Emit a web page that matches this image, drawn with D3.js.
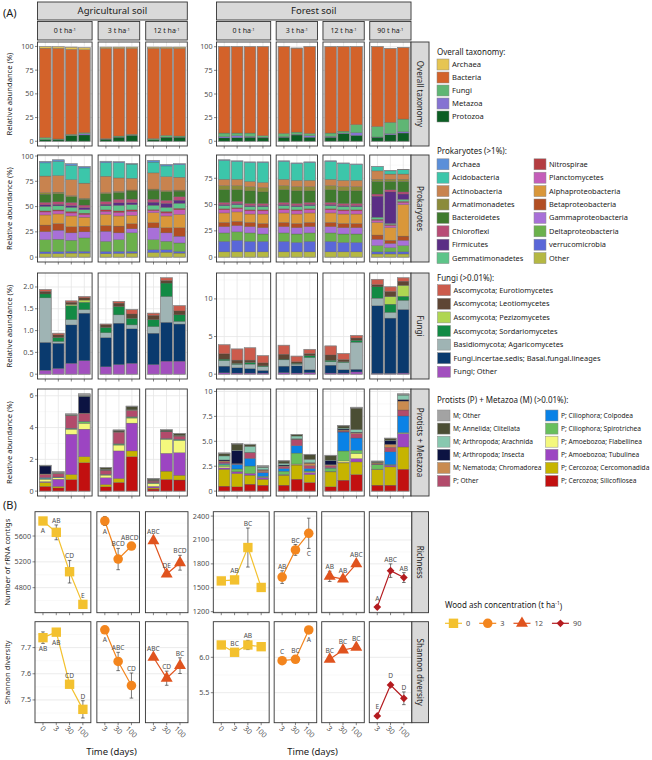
<!DOCTYPE html>
<html lang="en">
<head>
<meta charset="UTF-8">
<title>Wood ash and soil communities</title>
<script src="https://cdn.jsdelivr.net/npm/d3@7"></script>
<style>
  body { margin: 0; background: #fff; }
  text { font-family: "Noto Sans", sans-serif; }
</style>
</head>
<body>
<script>
// ---------------- data ----------------
const days0 = ["0", "3", "30", "100"];
const days = ["3", "30", "100"];
const agDoses = ["0", "3", "12"];
const forestDoses = ["0", "3", "12", "90"];

// Overall taxonomy (%), legend order
const overallTaxa = ["Archaea", "Bacteria", "Fungi", "Metazoa", "Protozoa"];
const overallColors = ["#e6c552", "#d3622a", "#5fb674", "#8573d2", "#0b5e23"];
const overallAg = [
  [1.6, 94.2, 2.1, 0.1, 1.7], [1.6, 95.6, 0.9, 0.1, 1.4], [2.4, 89.6, 1.3, 0.1, 5.9], [2.1, 87.5, 1.0, 1.4, 6.6],
  [1.3, 95.2, 0.6, 0.1, 2.1], [1.3, 92.5, 1.2, 0.1, 4.2], [1.3, 90.7, 1.0, 0.1, 6.2],
  [1.3, 95.2, 1.3, 0.1, 1.4], [1.3, 91.8, 1.9, 0.1, 4.2], [1.3, 92.5, 1.2, 0.1, 4.2]
];
const overallForest = [
  [0.1, 91.2, 3.9, 1.3, 3.5], [0.1, 91.2, 2.8, 2.1, 3.8], [0.1, 91.2, 3.5, 1.0, 4.2], [0.1, 94.0, 1.7, 0.7, 3.5],
  [0.1, 91.6, 3.5, 0.6, 4.2], [0.1, 88.8, 2.4, 0.7, 6.6], [0.1, 91.6, 2.4, 1.7, 4.2],
  [0.1, 91.2, 3.5, 1.0, 4.2], [0.1, 89.2, 2.0, 0.7, 8.0], [0.1, 82.3, 8.6, 2.8, 6.2],
  [0.1, 84.3, 11.1, 0.3, 4.2], [0.1, 78.2, 12.0, 1.1, 6.9], [0.1, 75.7, 13.5, 1.3, 8.7]
];

// Prokaryotes (>1%)
const prokTaxa = ["Archaea", "Acidobacteria", "Actinobacteria", "Armatimonadetes", "Bacteroidetes", "Chloroflexi",
  "Firmicutes", "Gemmatimonadetes", "Nitrospirae", "Planctomycetes", "Alphaproteobacteria", "Betaproteobacteria",
  "Gammaproteobacteria", "Deltaproteobacteria", "verrucomicrobia", "Other"];
const prokColors = ["#5b8fd9", "#3cc6aa", "#c8834f", "#8b8b3a", "#3f7a2e", "#b84c76", "#5b2e85", "#5ec489",
  "#b43c40", "#c45db9", "#d9973a", "#b24e22", "#a870d8", "#6bb14b", "#5a67d8", "#b5b843"];
const prokAg = [
  [1.5, 13, 16.5, 1.5, 8, 2.5, 1.5, 4.5, 1, 3, 10, 6.5, 8, 12, 1.7, 3.5],
  [1.5, 14, 16.5, 1.5, 8, 2.5, 1.5, 4, 1, 3, 9.5, 6.5, 9, 12.2, 2, 3.5],
  [1.6, 14, 16, 1, 5.7, 3, 1.8, 4, 1.5, 3, 10.7, 6, 7.3, 11, 1.7, 4],
  [1.3, 15, 15, 1, 5.7, 2.5, 2, 3.5, 1.5, 2.5, 9, 5.5, 6, 13.3, 1.7, 4],
  [1.5, 13.3, 16.3, 1, 7.7, 2.7, 1.5, 4, 1.5, 3, 11, 5.7, 10, 10, 2.3, 3.3],
  [1, 15, 13.3, 1, 6.7, 3.6, 2.5, 5.5, 1.5, 3.5, 10, 6.7, 6.7, 11.6, 2, 3.7],
  [0.4, 14, 11.6, 1, 8, 3.5, 2, 5, 1.5, 4, 8.4, 5, 4, 18.3, 1.7, 4],
  [1.7, 10.7, 16, 1, 9, 3, 3, 4.3, 1, 2, 10, 5, 11.7, 10, 2.7, 4.6],
  [1.4, 10.6, 14, 1, 8.4, 3, 4, 4, 1.5, 3, 11.7, 5, 8.3, 8.4, 2.5, 4.8],
  [1, 12.3, 12.7, 1, 5.6, 3.4, 3, 5, 1.5, 4.5, 13.3, 8.3, 6.7, 8.3, 1.7, 4]
];
const prokForest = [
  [0.5, 18, 6, 4, 12, 2, 1, 3, 1, 3, 9, 4, 6, 8, 10, 5],
  [0.5, 17, 6, 4, 11, 2, 1, 3, 1, 3, 9, 4, 6, 8, 11, 5],
  [0.5, 18, 5, 4, 12, 2, 1, 3, 1, 3, 8, 4, 6, 8, 10, 5],
  [0.5, 19, 5, 4, 11, 2, 1, 3, 1, 3, 9, 4, 6, 7, 10, 5],
  [0.5, 17, 6, 4, 12, 2, 1, 3, 1, 3, 9, 4, 6, 8, 10, 5],
  [0.5, 16, 6, 4, 12, 2, 1, 3, 1, 3, 9, 4, 6, 8, 9, 5],
  [0.5, 17, 6, 4, 11, 2, 1, 3, 1, 3, 9, 4, 6, 8, 10, 5],
  [0.5, 17, 6, 4, 12, 2, 1, 3, 1, 3, 9, 4, 6, 8, 10, 5],
  [0.5, 16, 6, 4, 12, 2, 1, 3, 1, 3, 9, 4, 6, 8, 9, 5],
  [0.5, 15, 6, 4, 12, 2, 1, 3, 1, 3, 9, 4, 6, 8, 9, 5],
  [0.3, 4, 8, 2, 12, 2, 20, 2, 1, 2, 12, 4, 6, 6, 2, 3],
  [0.3, 3, 5, 2, 8, 2, 30, 1, 1, 2, 12, 3, 4, 4, 2, 3],
  [0.3, 4, 5, 2, 10, 2, 5, 2, 1, 2, 30, 4, 5, 6, 2, 3]
];

// Fungi (>0.01%)
const fungiTaxa = ["Ascomycota; Eurotiomycetes", "Ascomycota; Leotiomycetes", "Ascomycota; Pezizomycetes",
  "Ascomycota; Sordariomycetes", "Basidiomycota; Agaricomycetes", "Fungi.incertae.sedis; Basal.fungal.lineages", "Fungi; Other"];
const fungiColors = ["#cc5b4c", "#5e4634", "#afd652", "#128a44", "#9fb4b4", "#0a3a6e", "#a24fbe"];
const fungiAg = [
  [0.04, 0.06, 0, 0.09, 1.02, 0.64, 0.09], [0.04, 0.06, 0, 0.09, 0.04, 0.58, 0.13],
  [0.03, 0.05, 0.03, 0.32, 0.12, 0.88, 0.25], [0.03, 0.05, 0.05, 0.17, 0.08, 1.09, 0.31],
  [0.02, 0.06, 0, 0.12, 0.11, 0.67, 0.17], [0.04, 0.08, 0, 0.19, 0.19, 0.95, 0.22], [0.1, 0.1, 0, 0.15, 0.09, 0.79, 0.25],
  [0.05, 0.1, 0, 0.16, 0.15, 0.72, 0.22], [0.06, 0.06, 0, 0.31, 0.59, 0.89, 0.3], [0.12, 0.09, 0, 0.15, 0.06, 0.85, 0.3]
];
const fungiForest = [
  [1.2, 0.7, 0, 0.2, 0.73, 0.89, 0.18], [1.48, 0.44, 0, 0.13, 0.45, 0.7, 0.15],
  [1.63, 0.31, 0, 0.22, 0.59, 0.6, 0.15], [0.95, 0.4, 0, 0.1, 0.5, 0.35, 0.15],
  [1.2, 0.65, 0, 0.1, 0.83, 0.87, 0.2], [0.75, 0.2, 0, 0.11, 0.24, 0.95, 0.15], [0.55, 0.3, 0, 0.25, 1.6, 0.4, 0.2],
  [1.2, 0.7, 0, 0.2, 0.45, 1.05, 0.15], [0.8, 0.3, 0, 0.1, 0.95, 0.45, 0.15], [0.35, 0.3, 0, 0.25, 3.6, 0.35, 0.3],
  [0.7, 0.3, 0, 1.5, 1.0, 9.0, 0.1], [0.6, 0.7, 1.0, 1.1, 0.75, 7.35, 0.1], [0.45, 0.55, 1.45, 0.55, 1.2, 8.45, 0.15]
];

// Protists (P) + Metazoa (M) (>0.01%)
const protTaxa = ["M; Other", "M; Annelida; Clitellata", "M; Arthropoda; Arachnida", "M; Arthropoda; Insecta",
  "M; Nematoda; Chromadorea", "P; Other", "P; Ciliophora; Colpodea", "P; Ciliophora; Spirotrichea",
  "P; Amoebozoa; Flabellinea", "P; Amoebozoa; Tubulinea", "P; Cercozoa; Cercomonadida", "P; Cercozoa; Silicofilosea"];
const protColors = ["#a3a3a3", "#4b4e34", "#88c8af", "#0c1342", "#c98b50", "#b24b6b", "#0a82e6", "#68bf5d",
  "#f4f87d", "#9c45c2", "#c6b400", "#c21010"];
const protAg = [
  [0.02, 0, 0.03, 0.5, 0.03, 0.2, 0.05, 0.05, 0.15, 0.05, 0.25, 0.3],
  [0.06, 0.02, 0.02, 0, 0.03, 0.2, 0.02, 0.02, 0.1, 0.45, 0.1, 0.2],
  [0.06, 0.02, 0.02, 0, 0.02, 0.78, 0.02, 0.04, 0.32, 2.53, 0.32, 0.73],
  [0.12, 0.02, 0.02, 1.05, 0.02, 0.5, 0.02, 0.1, 0.37, 1.73, 0.38, 1.79],
  [0.02, 0.1, 0.02, 0.03, 0.02, 0.25, 0.02, 0.02, 0.17, 0.42, 0.15, 0.27],
  [0.02, 0.08, 0.02, 0, 0.02, 0.73, 0.02, 0.06, 0.37, 1.73, 0.25, 0.55],
  [0.05, 0.18, 0.02, 0, 0.02, 0.4, 0.02, 0.06, 0.32, 1.75, 0.36, 2.17],
  [0.02, 0.05, 0.03, 0.02, 0.05, 0.1, 0.02, 0.03, 0.18, 0.1, 0.07, 0.13],
  [0.02, 0.07, 0.02, 0, 0.02, 0.42, 0.02, 0.03, 0.88, 1.12, 0.52, 0.74],
  [0.02, 0.1, 0.02, 0, 0.02, 0.2, 0.02, 0.06, 0.76, 1.42, 0.3, 0.7]
];
const protForest = [
  [0.06, 0.24, 0.4, 0.1, 0.1, 0.16, 0.1, 0.17, 0.17, 0.13, 1.7, 0.5],
  [0.07, 0.6, 0.05, 1.3, 0.02, 0.05, 0.47, 0.27, 0.02, 0.16, 1.34, 0.43],
  [0.05, 0.17, 0.6, 0.02, 0.02, 0.56, 0.77, 0.73, 0.02, 0.17, 0.9, 0.7],
  [0.1, 0.05, 0.23, 0.05, 0.15, 0.1, 0.37, 0.1, 0.02, 0.17, 0.6, 0.6],
  [0.02, 0.23, 0.17, 0.1, 0.05, 0.2, 0.27, 0.33, 0.02, 0.05, 1.0, 0.6],
  [0.02, 0.13, 0.27, 0.05, 0.05, 0.6, 0.74, 1.1, 0.05, 0.05, 1.42, 1.2],
  [0.06, 0.44, 0.33, 0.05, 0.24, 0.3, 0.25, 0.1, 0.05, 0.2, 0.8, 0.87],
  [0.07, 0.43, 0.05, 0.4, 0.1, 0.2, 0.05, 0.33, 0.02, 0.02, 1.5, 0.43],
  [0.07, 0.2, 0.1, 0.1, 0.1, 0.1, 1.9, 1.0, 0.15, 0.05, 1.73, 1.1],
  [0.1, 2.14, 0.26, 0.05, 0.1, 0.44, 1.23, 0.33, 0.5, 0.34, 1.26, 1.67],
  [0.03, 0.1, 0.05, 0.02, 0.1, 0.05, 0.03, 0.43, 0.02, 0.02, 1.57, 0.6],
  [0.02, 0.2, 0.05, 0.35, 0.3, 0.46, 1.27, 0.05, 0.02, 0.17, 1.83, 0.6],
  [0.1, 0.02, 0.45, 0.15, 0.9, 0.6, 1.67, 0.05, 0.05, 1.34, 2.23, 2.2]
];

// axis ticks for part A
const ticksOverall = [0, 25, 50, 75, 100];
const ticksProkAg = [0, 25, 50, 75, 100];
const ticksProkForest = [0, 25, 50, 75, 100];
const ticksFungiAg = [0, 0.5, 1, 1.5, 2];
const labelsFungiAg = ["0", "0.5", "1.0", "1.5", "2.0"];
const ticksFungiForest = [0, 5, 10];
const ticksProtAg = [0, 2, 4, 6];
const ticksProtForest = [0, 2.5, 5, 7.5, 10];
const labelsProtForest = ["0", "2.5", "5.0", "7.5", "10"];

// Part B: richness (number of rRNA contigs) and Shannon diversity, mean and error
const richAgMean = [5833, 5657, 5047, 4541, 5833, 5243, 5445, 5527, 5011, 5186];
const richAgErr = [20, 115, 175, 10, 70, 165, 15, 15, 15, 115];
const richAgLetters = ["A", "AB", "CD", "E", "A", "BCD", "ABCD", "ABC", "DE", "BCD"];
const richAgSide = ["b", "a", "a", "a", "b", "a", "a", "a", "a", "a"];
const richForestMean = [1586, 1599, 2005, 1504, 1634, 1975, 2184, 1643, 1608, 1800, 1257, 1715, 1628];
const richForestErr = [10, 15, 245, 10, 80, 68, 190, 64, 10, 10, 15, 85, 62];
const richForestLetters = ["", "AB", "BC", "", "AB", "BC", "C", "AB", "AB", "ABC", "A", "ABC", "AB"];
const richForestSide = ["a", "a", "a", "a", "a", "a", "b", "a", "a", "a", "a", "a", "a"];
const shanAgMean = [7.738, 7.759, 7.560, 7.464, 7.768, 7.647, 7.555, 7.663, 7.583, 7.631];
const shanAgErr = [0.022, 0.005, 0.005, 0.033, 0.005, 0.035, 0.048, 0.005, 0.027, 0.03];
const shanAgLetters = ["AB", "AB", "CD", "D", "A", "ABC", "CD", "ABC", "CD", "BC"];
const shanAgSide = ["b", "b", "a", "a", "b", "a", "a", "a", "a", "a"];
const shanForestMean = [6.174, 6.071, 6.174, 6.15, 5.952, 5.972, 6.386, 5.972, 6.103, 6.141, 5.171, 5.609, 5.421];
const shanForestErr = [0.005, 0.005, 0.065, 0.005, 0.005, 0.005, 0.005, 0.005, 0.005, 0.005, 0.005, 0.005, 0.09];
const shanForestLetters = ["", "BC", "AB", "", "C", "BC", "A", "BC", "BC", "BC", "E", "D", "D"];
const shanForestSide = ["a", "a", "a", "a", "a", "a", "b", "a", "a", "a", "a", "a", "a"];

const richAgLim = [4412, 5977], richForestLim = [1187, 2455];
const shanAgLim = [7.413, 7.799], shanForestLim = [5.076, 6.503];
const ticksRichAg = [4800, 5200, 5600];
const ticksRichForest = [1200, 1500, 1800, 2100, 2400];
const ticksShanAg = [7.5, 7.6, 7.7];
const ticksShanForest = [5.5, 6.0];
const labelsShanForest = ["5.5", "6.0"];

const doseNames = ["0", "3", "12", "90"];
const doseColors = ["#f3c12f", "#f3851d", "#e0531e", "#b41b1f"];

// ---------------- layout ----------------
const svg = d3.select("body").append("svg").attr("width", 652).attr("height", 760);

function colRanges(x0, unit, gap, doses) {
  let x = x0;
  return doses.map(d => {
    const cats = d === "0" ? days0 : days;
    const w = unit * (cats.length - 1 + 1.2);
    const r = {dose: d, cats: cats, x0: x, x1: x + w};
    x += w + gap;
    return r;
  });
}
const colsA = {ag: colRanges(37.5, 13, 6, agDoses), forest: colRanges(216.5, 12.9, 5.5, forestDoses)};
const colsB = {ag: colRanges(35, 13.3, 6, agDoses), forest: colRanges(213.3, 13.3, 5, forestDoses)};
const rowsA = [[42, 146], [155, 262], [273, 379], [389, 496]];
const rowsB = [[511.7, 612.7], [621.7, 722.7]];

function xScaleFor(col) {
  return d3.scalePoint().domain(col.cats).range([col.x0, col.x1]).padding(0.6);
}

function grid(g, y, ticks, x0, x1, domain) {
  const step = ticks[1] - ticks[0];
  const minors = [];
  for (let v = ticks[0] - step / 2; v <= ticks[ticks.length - 1] + step / 2 + 1e-9; v += step) minors.push(v);
  g.selectAll(null).data(minors.filter(v => v > domain[0] && v < domain[1])).join("line")
    .attr("x1", x0).attr("x2", x1).attr("y1", d => y(d)).attr("y2", d => y(d))
    .attr("stroke", "#f3f3f3").attr("stroke-width", 0.5);
  g.selectAll(null).data(ticks.filter(v => v >= domain[0] && v <= domain[1])).join("line")
    .attr("x1", x0).attr("x2", x1).attr("y1", d => y(d)).attr("y2", d => y(d))
    .attr("stroke", "#e6e6e6").attr("stroke-width", 0.8);
}

function yAxis(g, y, ticks, labels, x0, domain) {
  const shown = ticks.filter(v => v >= domain[0] && v <= domain[1]);
  g.selectAll(null).data(shown).join("line")
    .attr("x1", x0 - 2.5).attr("x2", x0).attr("y1", d => y(d)).attr("y2", d => y(d))
    .attr("stroke", "#333").attr("stroke-width", 0.6);
  g.selectAll(null).data(shown).join("text")
    .attr("x", x0 - 4).attr("y", d => y(d)).attr("dy", "0.35em")
    .attr("text-anchor", "end").attr("font-size", 7.2).attr("fill", "#4d4d4d")
    .text(d => labels ? labels[ticks.indexOf(d)] : d3.format("~g")(d));
}

function frame(g, x0, x1, y0, y1) {
  g.append("rect").attr("x", x0).attr("y", y0).attr("width", x1 - x0).attr("height", y1 - y0)
    .attr("fill", "none").attr("stroke", "#333").attr("stroke-width", 0.9);
}

function strip(x0, x1, y0, y1, label, rotate, size) {
  svg.append("rect").attr("x", x0).attr("y", y0).attr("width", x1 - x0).attr("height", y1 - y0)
    .attr("fill", "#d9d9d9").attr("stroke", "#333").attr("stroke-width", 0.9);
  const cx = (x0 + x1) / 2, cy = (y0 + y1) / 2;
  const t = svg.append("text").attr("text-anchor", "middle").attr("dy", "0.35em")
    .attr("font-size", size).attr("fill", "#1a1a1a")
    .attr("transform", rotate ? `translate(${cx},${cy}) rotate(90)` : `translate(${cx},${cy})`);
  return t.text(label);
}

function haLabel(sel, prefix) {
  sel.append("tspan").text(prefix);
  sel.append("tspan").attr("font-size", "0.6em").attr("dy", "-0.6em").text("-1");
}

// ---------------- part A: stacked bars ----------------
function stackRow(soil, r, taxa, colors, bars, ticks, labels) {
  const [top, bot] = rowsA[r];
  const cols = colsA[soil];
  const maxV = d3.max(bars, b => d3.sum(b));
  const domain = [-0.05 * maxV, 1.05 * maxV];
  const y = d3.scaleLinear().domain(domain).range([bot, top]);
  const color = d3.scaleOrdinal().domain(taxa).range(colors);
  const keys = taxa.slice().reverse();
  let k = 0;
  cols.forEach((col, ci) => {
    const x = xScaleFor(col);
    const rows = col.cats.map(day => {
      const o = {day: day};
      taxa.forEach((t, j) => { o[t] = bars[k][j]; });
      k++;
      return o;
    });
    const series = d3.stack().keys(keys)(rows);
    const g = svg.append("g");
    g.append("rect").attr("x", col.x0).attr("y", top).attr("width", col.x1 - col.x0).attr("height", bot - top).attr("fill", "#fff");
    grid(g, y, ticks, col.x0, col.x1, domain);
    g.selectAll(null).data(col.cats).join("line")
      .attr("x1", d => x(d)).attr("x2", d => x(d)).attr("y1", top).attr("y2", bot)
      .attr("stroke", "#e6e6e6").attr("stroke-width", 0.8);
    const bw = x.step() * 0.9;
    series.forEach(s => {
      g.selectAll(null).data(s.filter(d => d[1] > d[0])).join("rect")
        .attr("x", d => x(d.data.day) - bw / 2).attr("width", bw)
        .attr("y", d => y(d[1])).attr("height", d => y(d[0]) - y(d[1]))
        .attr("fill", color(s.key)).attr("stroke", "#555").attr("stroke-width", 0.3);
    });
    g.selectAll(null).data(rows).join("rect")
      .attr("x", d => x(d.day) - bw / 2).attr("width", bw)
      .attr("y", d => y(d3.sum(taxa, t => d[t]))).attr("height", d => y(0) - y(d3.sum(taxa, t => d[t])))
      .attr("fill", "none").attr("stroke", "#8c8c8c").attr("stroke-width", 0.7);
    frame(g, col.x0, col.x1, top, bot);
    g.selectAll(null).data(col.cats).join("line")
      .attr("x1", d => x(d)).attr("x2", d => x(d)).attr("y1", bot).attr("y2", bot + 2.5)
      .attr("stroke", "#333").attr("stroke-width", 0.6);
    if (ci === 0) yAxis(g, y, ticks, labels, col.x0, domain);
  });
}

stackRow("ag", 0, overallTaxa, overallColors, overallAg, ticksOverall);
stackRow("forest", 0, overallTaxa, overallColors, overallForest, ticksOverall);
stackRow("ag", 1, prokTaxa, prokColors, prokAg, ticksProkAg);
stackRow("forest", 1, prokTaxa, prokColors, prokForest, ticksProkForest);
stackRow("ag", 2, fungiTaxa, fungiColors, fungiAg, ticksFungiAg, labelsFungiAg);
stackRow("forest", 2, fungiTaxa, fungiColors, fungiForest, ticksFungiForest);
stackRow("ag", 3, protTaxa, protColors, protAg, ticksProtAg);
stackRow("forest", 3, protTaxa, protColors, protForest, ticksProtForest, labelsProtForest);

// top strips
[["ag", "Agricultural soil"], ["forest", "Forest soil"]].forEach(([soil, name]) => {
  const cols = colsA[soil];
  strip(cols[0].x0, cols[cols.length - 1].x1, 2, 20, name, false, 9.5);
  cols.forEach(c => {
    const t = strip(c.x0, c.x1, 21.5, 40, "", false, 7);
    haLabel(t, c.dose + " t ha");
  });
});
const stripX = colsA.forest[colsA.forest.length - 1].x1;
["Overall taxonomy", "Prokaryotes", "Fungi", "Protists + Metazoa"].forEach((lab, i) => {
  strip(stripX, stripX + 18, rowsA[i][0], rowsA[i][1], lab, true, 8);
});
rowsA.forEach(([t, b]) => {
  svg.append("text").attr("transform", `translate(9,${(t + b) / 2}) rotate(-90)`)
    .attr("text-anchor", "middle").attr("dy", "0.35em").attr("font-size", 7.6).attr("fill", "#1a1a1a")
    .text("Relative abundance (%)");
});
svg.append("text").attr("x", 3).attr("y", 17).attr("font-size", 11).attr("fill", "#1a1a1a").text("(A)");
svg.append("text").attr("x", 3).attr("y", 509).attr("font-size", 11).attr("fill", "#1a1a1a").text("(B)");

// ---------------- part B: points ----------------
const symbolFor = [d3.symbol().type(d3.symbolSquare).size(88), d3.symbol().type(d3.symbolCircle).size(72),
  d3.symbol().type(d3.symbolTriangle).size(62), d3.symbol().type(d3.symbolSquare).size(30)];

function pointRow(soil, r, means, errs, letters, sides, lim, ticks, labels) {
  const [top, bot] = rowsB[r];
  const cols = colsB[soil];
  const y = d3.scaleLinear().domain(lim).range([bot, top]);
  let k = 0;
  cols.forEach((col, ci) => {
    const x = xScaleFor(col);
    const di = doseNames.indexOf(col.dose);
    const pts = col.cats.map(day => {
      const p = {day: day, m: means[k], e: errs[k], lab: letters[k], side: sides[k]};
      k++;
      return p;
    });
    const g = svg.append("g");
    g.append("rect").attr("x", col.x0).attr("y", top).attr("width", col.x1 - col.x0).attr("height", bot - top).attr("fill", "#fff");
    grid(g, y, ticks, col.x0, col.x1, lim);
    g.append("path").datum(pts)
      .attr("d", d3.line().x(d => x(d.day)).y(d => y(d.m)))
      .attr("fill", "none").attr("stroke", doseColors[di]).attr("stroke-width", 1.2);
    const eb = g.selectAll(null).data(pts).join("g").attr("stroke", "#222").attr("stroke-width", 0.6);
    eb.append("line").attr("x1", d => x(d.day)).attr("x2", d => x(d.day))
      .attr("y1", d => y(d.m - d.e)).attr("y2", d => y(d.m + d.e));
    eb.append("line").attr("x1", d => x(d.day) - 1.8).attr("x2", d => x(d.day) + 1.8)
      .attr("y1", d => y(d.m - d.e)).attr("y2", d => y(d.m - d.e));
    eb.append("line").attr("x1", d => x(d.day) - 1.8).attr("x2", d => x(d.day) + 1.8)
      .attr("y1", d => y(d.m + d.e)).attr("y2", d => y(d.m + d.e));
    g.selectAll(null).data(pts).join("path")
      .attr("d", symbolFor[di])
      .attr("transform", d => `translate(${x(d.day)},${y(d.m)})` + (di === 3 ? " rotate(45)" : ""))
      .attr("fill", doseColors[di]);
    g.selectAll(null).data(pts.filter(d => d.lab)).join("text")
      .attr("x", d => {
        const w = d.lab.length * 4.3;
        return Math.min(x(d.day), col.x1 - 1 - w / 2);
      })
      .attr("y", d => d.side === "a" ? Math.min(y(d.m + d.e), y(d.m) - 4.5) - 2 : Math.max(y(d.m - d.e), y(d.m) + 4.5) + 8)
      .attr("text-anchor", "middle").attr("font-size", 6.6).attr("fill", "#4d4d4d")
      .text(d => d.lab);
    frame(g, col.x0, col.x1, top, bot);
    g.selectAll(null).data(col.cats).join("line")
      .attr("x1", d => x(d)).attr("x2", d => x(d)).attr("y1", bot).attr("y2", bot + 2.5)
      .attr("stroke", "#333").attr("stroke-width", 0.6);
    if (ci === 0) yAxis(g, y, ticks, labels, col.x0, lim);
    if (r === 1) {
      g.selectAll(null).data(col.cats).join("text")
        .attr("transform", d => `translate(${x(d)},${727 + d.length * 1.6}) rotate(45)`)
        .attr("text-anchor", "middle").attr("dy", "0.35em").attr("font-size", 7.4).attr("fill", "#4d4d4d")
        .text(d => d);
    }
  });
}

pointRow("ag", 0, richAgMean, richAgErr, richAgLetters, richAgSide, richAgLim, ticksRichAg);
pointRow("forest", 0, richForestMean, richForestErr, richForestLetters, richForestSide, richForestLim, ticksRichForest);
pointRow("ag", 1, shanAgMean, shanAgErr, shanAgLetters, shanAgSide, shanAgLim, ticksShanAg);
pointRow("forest", 1, shanForestMean, shanForestErr, shanForestLetters, shanForestSide, shanForestLim, ticksShanForest, labelsShanForest);

const stripXB = colsB.forest[colsB.forest.length - 1].x1;
["Richness", "Shannon diversity"].forEach((lab, i) => {
  strip(stripXB, stripXB + 16.7, rowsB[i][0], rowsB[i][1], lab, true, 8);
});
[["Number of rRNA contigs", 0], ["Shannon diversity", 1]].forEach(([lab, i]) => {
  svg.append("text").attr("transform", `translate(7,${(rowsB[i][0] + rowsB[i][1]) / 2}) rotate(-90)`)
    .attr("text-anchor", "middle").attr("dy", "0.35em").attr("font-size", 7.6).attr("fill", "#1a1a1a").text(lab);
});
["ag", "forest"].forEach(soil => {
  const cols = colsB[soil];
  svg.append("text").attr("x", (cols[0].x0 + cols[cols.length - 1].x1) / 2).attr("y", 755)
    .attr("text-anchor", "middle").attr("font-size", 9.5).attr("fill", "#1a1a1a").text("Time (days)");
});

// ---------------- legends ----------------
function legend(title, titleY, taxa, colors, opts) {
  svg.append("text").attr("x", 437).attr("y", titleY).attr("dy", "0.35em")
    .attr("font-size", 8).attr("fill", "#1a1a1a").text(title);
  taxa.forEach((t, i) => {
    const c = Math.floor(i / opts.perCol), rI = i % opts.perCol;
    const cy = opts.y0 + rI * opts.step;
    svg.append("rect").attr("x", opts.keyX[c]).attr("y", cy - 5.5).attr("width", opts.keyW).attr("height", 11)
      .attr("fill", colors[i]).attr("stroke", "#8c8c8c").attr("stroke-width", 0.5);
    svg.append("text").attr("x", opts.keyX[c] + opts.keyW + 3).attr("y", cy).attr("dy", "0.35em")
      .attr("font-size", opts.size).attr("fill", "#1a1a1a").text(t);
  });
}
legend("Overall taxonomy:", 52.5, overallTaxa, overallColors, {perCol: 5, y0: 64.5, step: 13, keyX: [437], keyW: 12, size: 7.6});
legend("Prokaryotes (>1%):", 150.7, prokTaxa, prokColors, {perCol: 8, y0: 164.3, step: 13.4, keyX: [437, 534], keyW: 12, size: 7.4});
legend("Fungi (>0.01%):", 277.7, fungiTaxa, fungiColors, {perCol: 7, y0: 290.2, step: 13.6, keyX: [437.5], keyW: 13, size: 7.4});
legend("Protists (P) + Metazoa (M) (>0.01%):", 400, protTaxa, protColors, {perCol: 6, y0: 415.5, step: 13.1, keyX: [437.5, 545.5], keyW: 12.5, size: 6.6});

const wt = svg.append("text").attr("x", 445).attr("y", 605).attr("dy", "0.35em").attr("font-size", 8).attr("fill", "#1a1a1a");
haLabel(wt, "Wood ash concentration (t ha");
wt.append("tspan").attr("dy", "0.6em").text(")");
let lx = 445;
doseNames.forEach((d, i) => {
  const cy = 623.3, cx = lx + 8.5;
  svg.append("line").attr("x1", lx).attr("x2", lx + 17).attr("y1", cy).attr("y2", cy)
    .attr("stroke", doseColors[i]).attr("stroke-width", 1.2);
  svg.append("path").attr("d", symbolFor[i])
    .attr("transform", `translate(${cx},${cy})` + (i === 3 ? " rotate(45)" : ""))
    .attr("fill", doseColors[i]);
  const t = svg.append("text").attr("x", lx + 21).attr("y", cy).attr("dy", "0.35em")
    .attr("font-size", 7.4).attr("fill", "#4d4d4d").text(d);
  lx = lx + 21 + t.node().getComputedTextLength() + 9;
});
</script>
</body>
</html>
